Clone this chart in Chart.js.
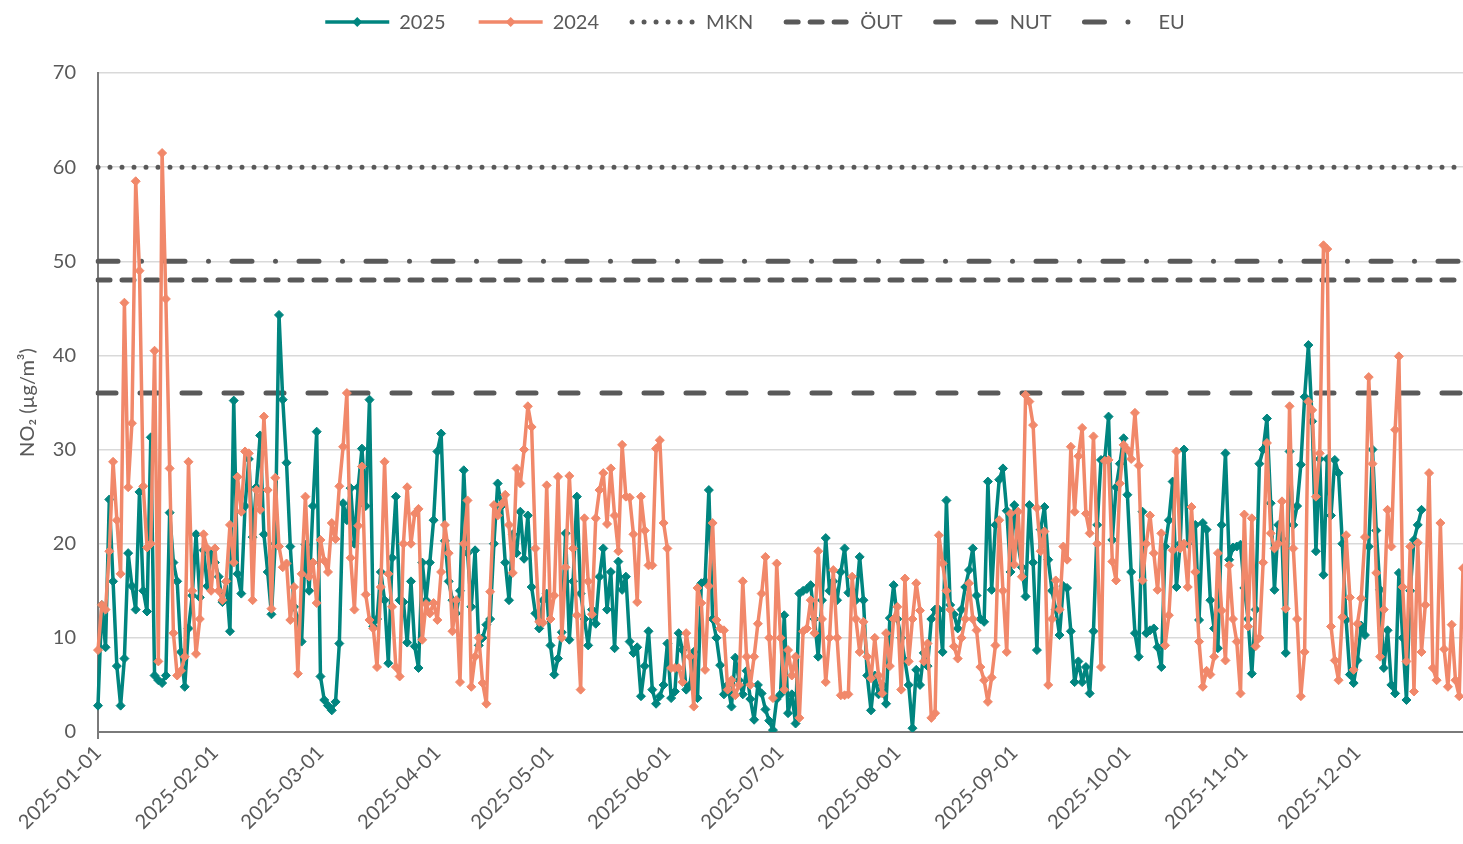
<!DOCTYPE html>
<html>
<head>
<meta charset="utf-8">
<script src="https://cdn.jsdelivr.net/npm/chart.js@4/dist/chart.umd.min.js"></script>
<style>
    html, body { margin: 0; padding: 0; background: #ffffff; }
    #wrap { width: 1463px; height: 844px; position: relative; }
</style>
</head>
<body>
<div id="wrap"><canvas id="chart"></canvas></div>
<script>
// x axis runs from 2025-01-01 to 2025-12-29 (the picture is cut at the right edge)
const firstDay = [2025, 0, 1];
const dayCount = 363;
const monthTicks = ['2025-01-01', '2025-02-01', '2025-03-01', '2025-04-01', '2025-05-01', '2025-06-01',
    '2025-07-01', '2025-08-01', '2025-09-01', '2025-10-01', '2025-11-01', '2025-12-01'];
const yTicks = [0, 10, 20, 30, 40, 50, 60, 70];

// daily NO2 means, one value per day
const values2025 = [
    // jan
    2.8, 13.5, 9, 24.7, 16, 7, 2.8, 7.8, 19, 15.5, 13, 25.5, 15, 12.8, 31.3, 6, 5.5, 5.2, 6, 23.3, 18, 16, 8.5, 4.8, 11, 14.5, 21, 14.3, 19.3, 15.5, 19,
    // feb
    18, 16.5, 13.8, 16, 10.7, 35.2, 16.8, 14.7, 24, 29, 20.7, 26, 31.5, 21, 17, 12.5, 20, 44.3, 35.3, 28.6, 19.7, 13.3, 12, 9.6, 19.9, 15, 24, 31.9,
    // mar
    5.9, 3.4, 2.8, 2.3, 3.2, 9.4, 24.3, 22.5, 25.9, 20, 26, 30.1, 24, 35.3, 11.2, 12, 17, 14, 7.3, 18.5, 25, 14, 13.8, 9.5, 16, 9.1, 6.8, 18, 14, 18, 22.5,
    // apr
    29.8, 31.7, 20.3, 16, 14, 12.6, 15, 27.8, 19, 13.3, 19.3, 9.2, 10, 11.4, 12, 20, 26.4, 24, 18, 14, 21, 19, 23.4, 18.4, 23, 15.4, 12.6, 11, 14, 14.7,
    // may
    9.2, 6.1, 7.8, 10.6, 21.1, 9.8, 16, 25, 14.7, 12, 9.2, 13, 11.5, 16.5, 19.5, 13, 17, 8.9, 18.1, 15.1, 16.5, 9.6, 8.4, 9, 3.8, 7, 10.7, 4.5, 3.0, 3.8, 5,
    // jun
    9.4, 3.6, 4.3, 10.5, 8.7, 4.5, 5, 8.5, 3.6, 15.8, 16, 25.7, 12, 10, 7.1, 4, 5, 2.7, 7.9, 5.5, 4, 6.5, 3.5, 1.3, 5, 4.1, 2.4, 1.2, 0.2, 3.5,
    // jul
    4, 12.4, 2, 4, 0.9, 14.7, 15, 15.2, 15.6, 12, 8, 14, 20.6, 15, 16, 14, 17, 19.5, 14.8, 15, 14, 18.6, 14, 6, 2.3, 6, 4, 5, 3, 12.1, 15.6,
    // aug
    12, 10, 7.6, 5, 0.4, 6.6, 5, 8.4, 7, 12, 13, 13, 8.5, 24.6, 13.5, 12.5, 11, 13, 15.4, 17.2, 19.5, 14.5, 12, 11.7, 26.6, 15.1, 22, 26.8, 28, 23.5, 17,
    // sep
    24.1, 20, 17.5, 14.4, 24.1, 18, 8.7, 21.5, 23.9, 18.3, 15, 13, 10.3, 15.5, 15.3, 10.7, 5.3, 7.5, 5.3, 6.9, 4.1, 10.7, 22, 28.9, 29, 33.5, 20.4, 26, 28.5, 31.2,
    // oct
    25.2, 17, 10.5, 8, 23.4, 10.5, 10.8, 11, 9, 6.9, 19.7, 22.5, 26.6, 15.4, 20, 30, 20, 21, 22, 11.9, 22.2, 21.5, 14, 11, 8.9, 22, 29.6, 18.3, 19.6, 19.7, 19.9,
    // nov
    15.3, 12, 6.2, 13, 28.5, 30, 33.3, 24.3, 15.1, 22, 20.5, 8.4, 29.8, 22, 24, 28.4, 35.6, 41.1, 33, 19.2, 29, 16.7, 29, 23, 28.9, 27.5, 20, 11.9, 6.1, 5.2,
    // dec (no data after the 18th)
    7.6, 11.3, 10.3, 19.7, 30, 21.4, 15.1, 6.8, 10.8, 5, 4.1, 16.9, 10, 3.4, 15, 20.4, 22, 23.6,
    null, null, null, null, null, null, null, null, null, null, null
];

const values2024 = [
    // jan
    8.7, 13.5, 13, 19.2, 28.7, 22.5, 16.8, 45.6, 26, 32.8, 58.5, 49, 26.1, 19.6, 20, 40.5, 7.5, 61.5, 46, 28, 10.5, 6, 6.5, 8, 28.7, 15, 8.3, 12, 21, 19.5, 15,
    // feb
    19.5, 15, 14, 16, 22, 18, 27.1, 23.4, 29.8, 29.6, 14, 25.7, 23.6, 33.5, 25.7, 13.1, 27, 19.7, 17.5, 17.9, 11.9, 15.4, 6.2, 16.8, 25, 16.5, 18, 13.7,
    // mar
    20.4, 18.2, 17, 22.2, 20.5, 26.1, 30.3, 36, 18.5, 13, 21.9, 28.2, 14.6, 11.9, 11, 6.9, 15.4, 28.7, 16.8, 13.3, 6.9, 5.9, 20, 26, 20, 23.2, 23.7, 9.8, 13.6, 12.6, 13.7,
    // apr
    11.9, 17, 22, 19, 10.7, 14, 5.3, 20, 24.6, 4.8, 8, 10, 5.2, 3.0, 14.9, 24.1, 23, 24.2, 25.2, 22, 16.9, 28, 26.4, 30, 34.6, 32.4, 19.5, 11.7, 11.6, 26.2,
    // may
    12, 14.5, 27.1, 10, 17.5, 27.2, 19.5, 12.4, 4.5, 22.7, 16, 12.5, 22.7, 25.7, 27.5, 22.1, 28, 23, 19.2, 30.5, 25, 24.9, 21, 13.8, 25, 21.4, 17.7, 17.7, 30.1, 31, 22.2,
    // jun
    19.5, 6.8, 6.8, 6.8, 5.3, 10.5, 8, 2.7, 15.3, 13.7, 6.6, 15.5, 22.2, 11.9, 11, 10.8, 4.5, 5.5, 3.9, 5, 16, 8, 5, 8, 11.5, 14.7, 18.6, 10, 3.6, 17.9,
    // jul
    10, 4.5, 8.7, 6, 8, 1.5, 10.7, 11, 14, 10.5, 19.2, 12, 5.3, 10, 17.2, 10, 3.9, 3.9, 4, 16.5, 12, 8.5, 11.7, 8, 5.7, 10, 6, 4.1, 10.5, 7, 12,
    // aug
    13.3, 4.5, 16.3, 7.5, 12, 15.8, 12.9, 7.5, 9.4, 1.5, 2, 20.9, 17.9, 15, 13, 9.1, 7.8, 10, 12, 15.8, 12, 10.8, 6.9, 5.5, 3.2, 5.8, 9.2, 22.5, 15, 8.5, 23.2,
    // sep
    17.8, 23.4, 16.5, 35.8, 35.1, 32.6, 23.8, 19.2, 21.3, 5, 12, 16.1, 13, 19.7, 18.3, 30.3, 23.4, 29.3, 32.3, 23.2, 21.1, 31.4, 20, 6.9, 28.8, 28.9, 18.1, 16.1, 26.4, 30.5,
    // oct
    30, 29, 33.9, 28.3, 16.1, 20, 23, 19, 15.1, 21.1, 9.2, 12.4, 19.3, 29.8, 19.5, 20, 15.4, 23.9, 17, 9.6, 4.8, 6.5, 6.1, 8, 19, 12.9, 7.6, 17.7, 12, 9.6, 4.1,
    // nov
    23.1, 11.2, 22.7, 9.1, 10, 18, 30.7, 21.1, 19.5, 20, 24.5, 13.1, 34.6, 19.5, 12, 3.8, 8.5, 35.1, 34.2, 25, 29.6, 51.7, 51.3, 11.2, 7.6, 5.5, 12.2, 20.9, 14.3, 6.6,
    // dec
    11.5, 14.2, 20.7, 37.7, 28.5, 16.9, 8, 13, 23.6, 19.7, 32.1, 39.9, 15.4, 7.5, 19.7, 4.3, 20.1, 8.5, 13.5, 27.5, 6.8, 5.5, 22.2, 8.8, 4.8, 11.4, 5.5, 3.8, 17.4
];

// limit and threshold levels
const refNames = ['MKN', 'ÖUT', 'NUT', 'EU'];
const refLevels = [60, 48, 36, 50];
const refDashes = [[0, 12], [12, 12], [18, 24], [20, 23.5, 0, 23.5]];

const textColor = '#595959';
const fontFamily = 'Lato, "Open Sans", sans-serif';

const labels = [];
for (let i = 0; i < dayCount; i++) {
    const d = new Date(Date.UTC(firstDay[0], firstDay[1], firstDay[2] + i));
    labels.push(d.toISOString().slice(0, 10));
}
const isMonthStart = (i) => monthTicks.includes(labels[i]);

const seriesStyle = (color) => ({
    borderColor: color,
    backgroundColor: color,
    borderWidth: 3.5,
    borderJoinStyle: 'round',
    pointStyle: 'rectRot',
    pointRadius: 4.5,
    pointBorderWidth: 1,
    pointHoverRadius: 4.5,
    tension: 0,
    spanGaps: false,
});

const datasets = [
    { label: '2025', data: values2025, order: 2, ...seriesStyle('#00857f') },
    { label: '2024', data: values2024, order: 1, ...seriesStyle('#f1886a') },
];

refNames.forEach((name, k) => {
    datasets.push({
        label: name,
        data: labels.map(() => refLevels[k]),
        borderColor: '#595959',
        backgroundColor: '#595959',
        borderWidth: 5,
        borderDash: refDashes[k],
        borderCapStyle: 'round',
        pointRadius: 0,
        pointHoverRadius: 0,
        order: 5 + k,
    });
});

// legend drawn by hand so the samples show the real line styles
const topLegend = {
    id: 'topLegend',
    afterDraw(chart) {
        const ctx = chart.ctx;
        const sample = 68;
        const gap = 8;
        const spacing = 31;
        const y = 22;

        ctx.save();
        ctx.font = `20px ${fontFamily}`;
        ctx.textBaseline = 'middle';

        const sets = chart.data.datasets;
        const widths = sets.map((ds) => sample + gap + ctx.measureText(ds.label).width);
        const total = widths.reduce((a, b) => a + b, 0) + spacing * (sets.length - 1);
        let x = 754 - total / 2;

        sets.forEach((ds, i) => {
            ctx.strokeStyle = ds.borderColor;
            ctx.lineWidth = ds.borderWidth;
            ctx.setLineDash(ds.borderDash || []);
            ctx.lineCap = ds.borderCapStyle || 'butt';
            ctx.beginPath();
            ctx.moveTo(x + 2, y);
            ctx.lineTo(x + sample - 2, y);
            ctx.stroke();
            ctx.setLineDash([]);

            if (ds.pointRadius > 0) {
                const cx = x + sample / 2;
                const r = ds.pointRadius + 0.5;
                ctx.fillStyle = ds.borderColor;
                ctx.beginPath();
                ctx.moveTo(cx, y - r);
                ctx.lineTo(cx + r, y);
                ctx.lineTo(cx, y + r);
                ctx.lineTo(cx - r, y);
                ctx.closePath();
                ctx.fill();
            }

            ctx.fillStyle = textColor;
            ctx.textAlign = 'left';
            ctx.fillText(ds.label, x + sample + gap, y + 1);
            x += widths[i] + spacing;
        });
        ctx.restore();
    },
};

new Chart(document.getElementById('chart'), {
    type: 'line',
    data: { labels, datasets },
    plugins: [topLegend],
    options: {
        responsive: true,
        maintainAspectRatio: false,
        animation: false,
        devicePixelRatio: 1,
        // no auto padding: the plot runs to the very right edge, as in the source
        layout: { autoPadding: false, padding: { top: 73, right: 0, left: 0, bottom: 0 } },
        plugins: {
            legend: { display: false },
            tooltip: { enabled: false },
        },
        scales: {
            x: {
                type: 'category',
                offset: false,
                border: { display: true, color: '#7a7a7a', width: 2 },
                grid: {
                    drawOnChartArea: false,
                    drawTicks: true,
                    tickLength: 7,
                    color: (ctx) => (isMonthStart(ctx.index) ? '#7a7a7a' : 'rgba(0,0,0,0)'),
                    lineWidth: 2,
                },
                ticks: {
                    autoSkip: false,
                    maxRotation: 45,
                    minRotation: 45,
                    padding: 2,
                    color: textColor,
                    font: { family: fontFamily, size: 20 },
                    // only the first day of each month gets a label
                    callback: (value, index) => (isMonthStart(index) ? labels[index] : null),
                },
                afterFit: (scale) => {
                    scale.height = 112;
                    scale.paddingRight = 0;
                },
            },
            y: {
                min: 0,
                max: 70,
                border: { display: true, color: '#7a7a7a', width: 2 },
                grid: { color: '#d9d9d9', lineWidth: 1.5, drawTicks: false },
                afterBuildTicks: (scale) => { scale.ticks = yTicks.map((v) => ({ value: v })); },
                ticks: {
                    padding: 22,
                    color: textColor,
                    font: { family: fontFamily, size: 20 },
                },
                title: {
                    display: true,
                    text: 'NO₂ (µg/m³)',
                    color: textColor,
                    font: { family: fontFamily, size: 20 },
                    padding: { top: 16, bottom: 0 },
                },
                afterFit: (scale) => { scale.width = 98; },
            },
        },
    },
});
</script>
</body>
</html>
